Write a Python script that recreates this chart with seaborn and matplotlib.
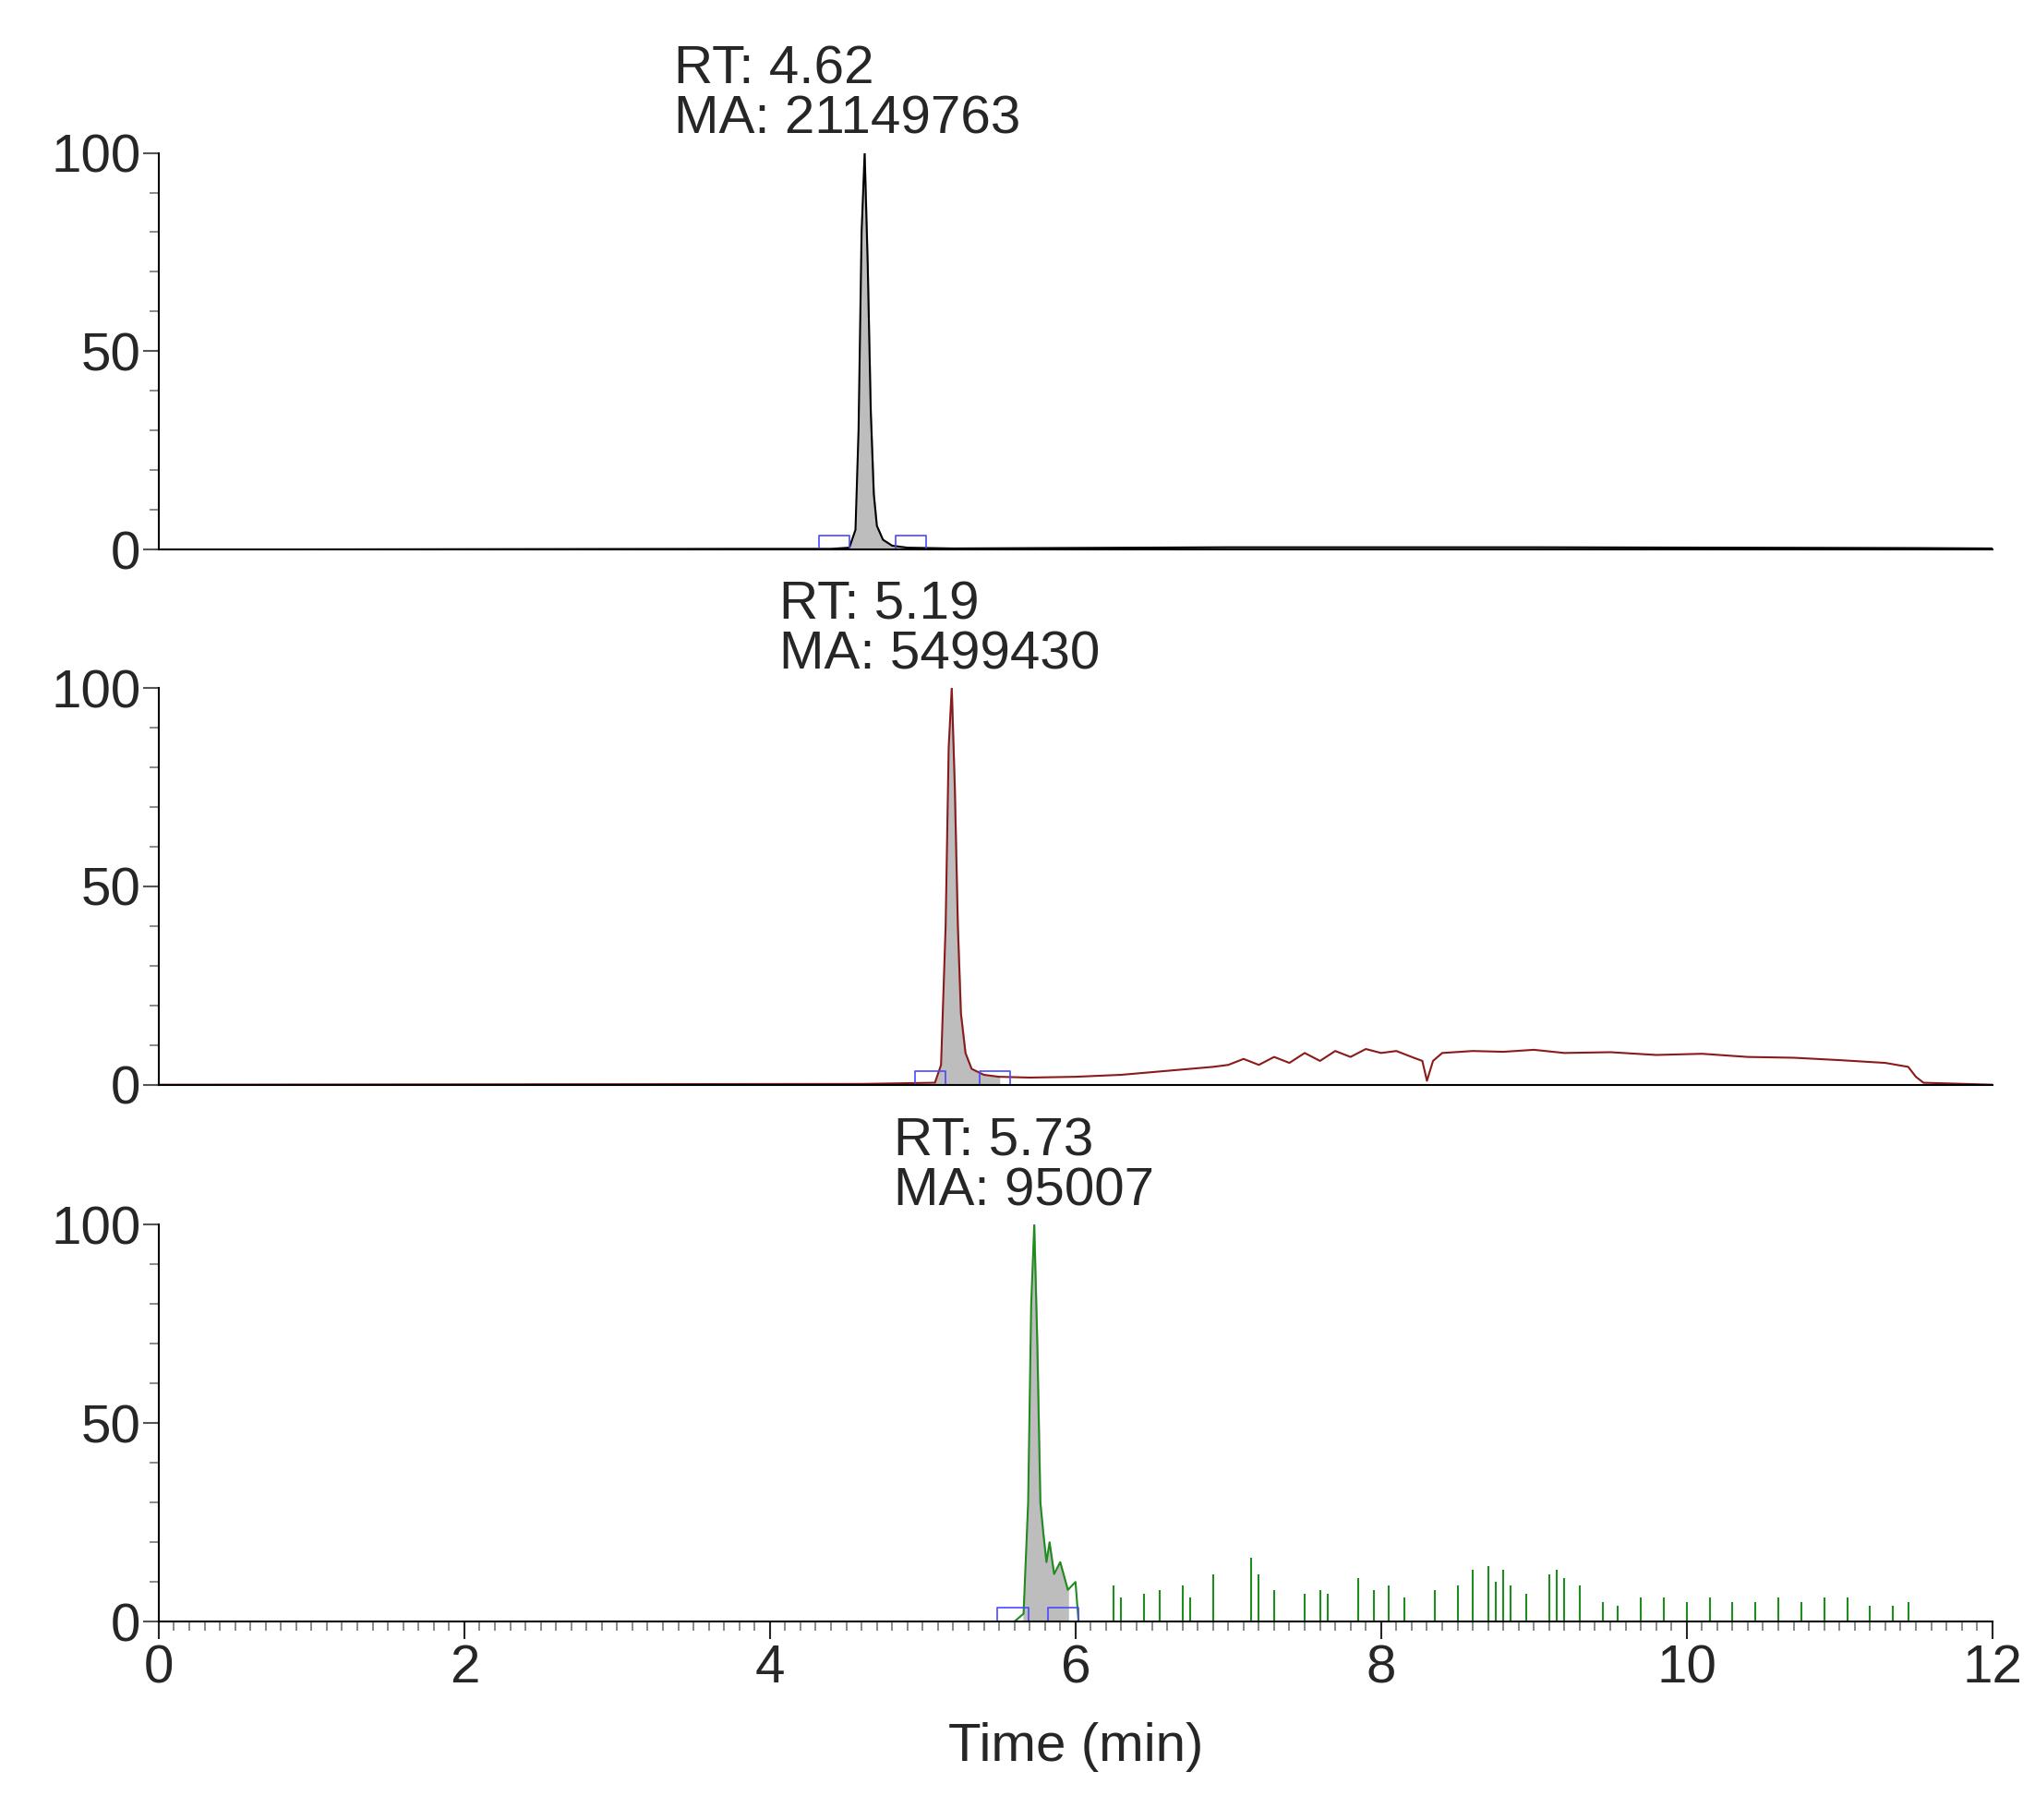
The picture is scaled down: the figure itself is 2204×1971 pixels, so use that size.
import numpy as np
import matplotlib.pyplot as plt
import seaborn as sns

sns.set_style("white")
plt.rcParams['font.family'] = ['Liberation Sans', 'DejaVu Sans']

# trace 1 (black)
t1 = [0, 3.8, 4.4, 4.52, 4.56, 4.58, 4.6, 4.62, 4.64, 4.66, 4.68, 4.7, 4.74, 4.8, 4.9, 5.2, 7, 9, 11.5, 12]
y1 = [0, 0.2, 0.2, 0.5, 5, 30, 80, 100, 72, 35, 14, 6, 2.5, 1, 0.5, 0.3, 0.6, 0.6, 0.4, 0.3]
# trace 2 (dark red)
t2 = [0, 4.6, 5.08, 5.12, 5.15, 5.17, 5.19, 5.21, 5.23, 5.25, 5.28, 5.32, 5.4, 5.5, 5.7, 6.0, 6.3, 6.6, 6.9,
      7.0, 7.1, 7.2, 7.3, 7.4, 7.5, 7.6, 7.7, 7.8, 7.9, 8.0, 8.1, 8.2, 8.27, 8.3, 8.34, 8.4, 8.6, 8.8, 9.0,
      9.2, 9.5, 9.8, 10.1, 10.4, 10.7, 11.0, 11.3, 11.45, 11.5, 11.55, 12]
y2 = [0, 0.2, 0.5, 5, 40, 85, 100, 75, 40, 18, 8, 4, 2.5, 2, 1.8, 2, 2.5, 3.5, 4.5,
      5, 6.5, 5, 7, 5.5, 8, 6, 8.5, 7, 9, 8, 8.5, 7, 6, 1, 6, 8, 8.5, 8.3, 8.8,
      8, 8.2, 7.5, 7.8, 7, 6.8, 6.2, 5.5, 4.5, 2, 0.5, 0]
# trace 3 (green) peak
t3 = [0, 5.6, 5.66, 5.69, 5.71, 5.73, 5.75, 5.77, 5.79, 5.81, 5.83, 5.86, 5.9, 5.95, 6.0, 6.02, 12]
y3 = [0, 0, 2, 30, 80, 100, 70, 30, 22, 15, 20, 12, 15, 8, 10, 0, 0]
# green noise spikes
sp_t = [6.25, 6.3, 6.45, 6.55, 6.7, 6.75, 6.9, 7.15, 7.2, 7.3, 7.5, 7.6, 7.65, 7.85, 7.95, 8.05, 8.15,
        8.35, 8.5, 8.6, 8.7, 8.75, 8.8, 8.85, 8.95, 9.1, 9.15, 9.2, 9.3, 9.45, 9.55, 9.7, 9.85, 10.0,
        10.15, 10.3, 10.45, 10.6, 10.75, 10.9, 11.05, 11.2, 11.35, 11.45]
sp_y = [9, 6, 7, 8, 9, 6, 12, 16, 12, 8, 7, 8, 7, 11, 8, 9, 6,
        8, 9, 13, 14, 10, 13, 9, 7, 12, 13, 11, 9, 5, 4, 6, 6, 5,
        6, 5, 5, 6, 5, 6, 6, 4, 4, 5]

labels = [("RT: 4.62\nMA: 21149763", 3.37), ("RT: 5.19\nMA: 5499430", 4.06), ("RT: 5.73\nMA: 95007", 4.81)]
traces = [(t1, y1, 'black', (4.45, 4.95)), (t2, y2, '#8b1a1a', (5.08, 5.5)), (t3, y3, '#1e8c1e', (5.62, 5.95))]

fig = plt.figure(figsize=(22.04, 19.71), dpi=100)
bottoms = [0.698, 0.404, 0.109]
for i, (b, (t, y, c, (a0, a1))) in enumerate(zip(bottoms, traces)):
    ax = fig.add_axes([0.078, b, 0.901, 0.218])
    sns.lineplot(x=t, y=y, color=c, lw=1.5, ax=ax, estimator=None, sort=False)
    ta, ya = np.array(t), np.array(y)
    m = (ta >= a0) & (ta <= a1)
    ax.fill_between(ta[m], 0, ya[m], color='#bdbdbd', zorder=1)
    for xs in (a0 - 0.03, a1 - 0.03):
        ax.plot([xs - 0.1, xs - 0.1, xs + 0.1, xs + 0.1], [0, 3.5, 3.5, 0], color='#4a4aff', lw=1.2)
    if i == 2:
        ax.vlines(sp_t, 0, sp_y, color='#1e8c1e', lw=1.5)
    ax.set_xlim(0, 12)
    ax.set_ylim(0, 100)
    ax.set_yticks([0, 50, 100])
    ax.set_yticks(np.arange(0, 101, 10), minor=True)
    sns.despine(ax=ax, top=True, right=True)
    for s in ['left', 'bottom']:
        ax.spines[s].set_color('black')
        ax.spines[s].set_linewidth(1.5)
    ax.tick_params(axis='y', which='major', length=12, width=1.5, labelsize=42, left=True, color='#555555', pad=2)
    ax.tick_params(axis='y', which='minor', length=7, width=1.2, left=True, color='#777777')
    txt, xpos = labels[i]
    ax.text(xpos, 102, txt, fontsize=42, ha='left', va='bottom', linespacing=1.0)
    if i < 2:
        ax.set_xticks([])
    else:
        ax.set_xticks(np.arange(0, 13, 2))
        ax.set_xticks(np.arange(0, 12.01, 0.1), minor=True)
        ax.tick_params(axis='x', which='major', length=14, width=1.5, labelsize=42, bottom=True)
        ax.tick_params(axis='x', which='minor', length=7, width=1.2, bottom=True, color='#777777')
        ax.set_xlabel('Time (min)', fontsize=42, labelpad=22)

fig.savefig('out.png', dpi=100)
